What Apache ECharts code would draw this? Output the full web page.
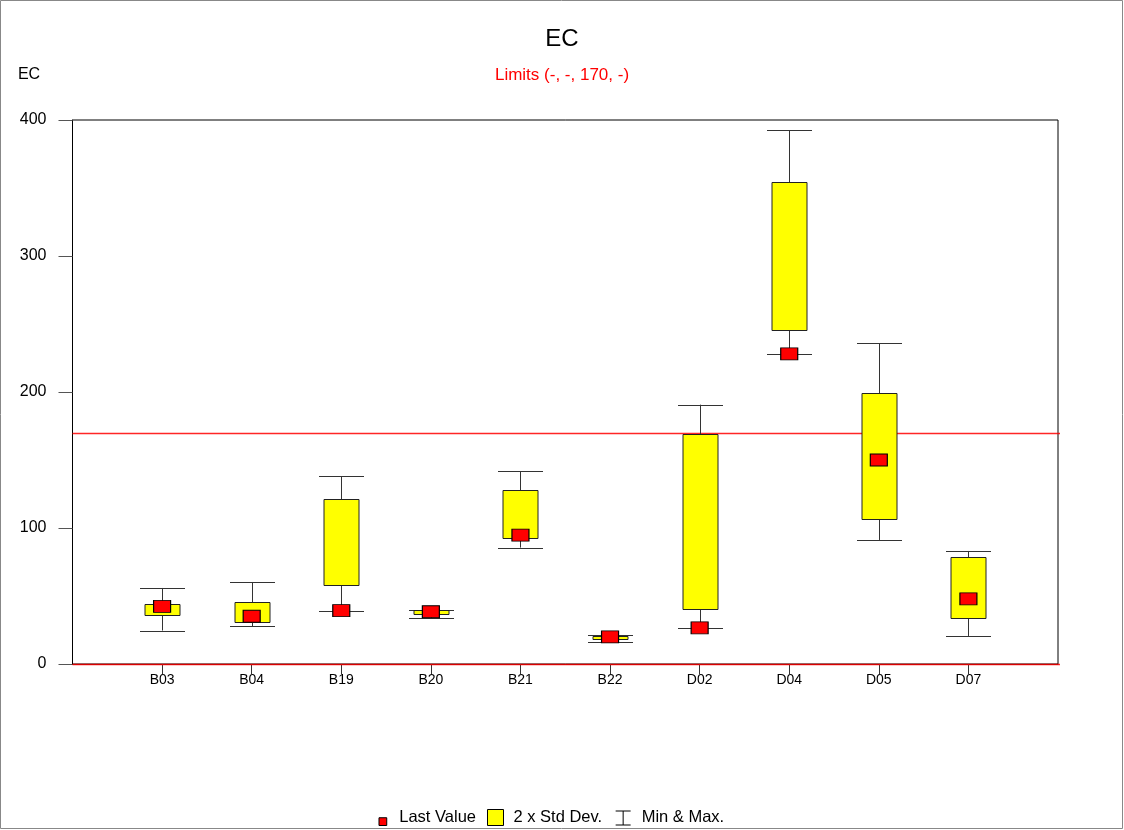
<!DOCTYPE html>
<html>
<head>
<meta charset="utf-8">
<script src="https://cdn.jsdelivr.net/npm/echarts@6/dist/echarts.min.js"></script>
<style>
html,body{margin:0;padding:0;background:#fff;}
#chart{width:1124px;height:830px;}
</style>
</head>
<body>
<div id="chart"></div>
<script>
const categories = ['B03','B04','B19','B20','B21','B22','D02','D04','D05','D07'];
const minValues  = [24.6, 27.9, 38.7, 33.6, 85.6, 16.5, 26.5, 227.7, 91.2, 20.6];
const maxValues  = [55.9, 60.3, 138.0, 39.7, 141.7, 21.3, 190.7, 392.6, 235.8, 83.1];
const boxLow     = [35.8, 30.9, 57.9, 37.0, 92.9, 18.4, 40.2, 245.4, 106.4, 33.8];
const boxHigh    = [44.1, 45.9, 121.1, 39.7, 128.2, 20.4, 168.9, 354.4, 199.3, 78.7];
const lastValues = [42.4, 35.1, 39.2, 38.4, 94.8, 19.9, 26.6, 228.0, 150.0, 47.9];
const limitValues = [170, 0];
const yTicks = [0, 100, 200, 300, 400];

const font = '"Liberation Sans", Arial, sans-serif';
const axisCats = [''].concat(categories, ['']);

const whiskerData = categories.map((c, i) => [c, minValues[i], maxValues[i]]);
const boxData = categories.map((c, i) => [c, boxLow[i], boxHigh[i]]);
const lastData = categories.map((c, i) => [c, lastValues[i]]);
const limitData = limitValues.map(v => [0, v]);

function renderWhisker(params, api) {
  const lo = api.coord([api.value(0), api.value(1)]);
  const hi = api.coord([api.value(0), api.value(2)]);
  const x = Math.round(lo[0]) + 0.5;
  const capW = 45;
  const st = {stroke: '#333', lineWidth: 1};
  return {
    type: 'group',
    children: [
      {type: 'line', shape: {x1: x, y1: lo[1], x2: x, y2: hi[1]}, style: st},
      {type: 'line', shape: {x1: x - capW / 2, y1: Math.round(lo[1]) + 0.5, x2: x + capW / 2, y2: Math.round(lo[1]) + 0.5}, style: st},
      {type: 'line', shape: {x1: x - capW / 2, y1: Math.round(hi[1]) + 0.5, x2: x + capW / 2, y2: Math.round(hi[1]) + 0.5}, style: st}
    ]
  };
}

function renderBox(params, api) {
  const lo = api.coord([api.value(0), api.value(1)]);
  const hi = api.coord([api.value(0), api.value(2)]);
  const w = 35;
  const x = Math.round(lo[0]) + 0.5;
  return {
    type: 'rect',
    shape: {x: x - w / 2, y: Math.round(hi[1]) + 0.5, width: w, height: Math.round(lo[1]) - Math.round(hi[1])},
    style: {fill: '#ffff00', stroke: '#222', lineWidth: 1}
  };
}

function renderLimit(params, api) {
  const p = api.coord([api.value(0), api.value(1)]);
  const cs = params.coordSys;
  const y = Math.round(p[1]) + 0.5;
  return {
    type: 'line',
    shape: {x1: cs.x, y1: y, x2: cs.x + cs.width + 2, y2: y},
    style: {stroke: '#ff0000', lineWidth: 1.6, opacity: 0.85}
  };
}

const chart = echarts.init(document.getElementById('chart'), null, {renderer: 'canvas'});
chart.setOption({
  backgroundColor: '#fff',
  animation: false,
  textStyle: {fontFamily: font},
  title: {
    text: 'EC',
    subtext: 'Limits (-, -, 170, -)',
    left: 'center',
    top: 22,
    itemGap: 16,
    textStyle: {fontFamily: font, fontSize: 24, fontWeight: 'normal', color: '#000'},
    subtextStyle: {fontFamily: font, fontSize: 17, color: '#ff0000'}
  },
  graphic: [{
    type: 'rect',
    shape: {x: 0.5, y: 0.5, width: 1122, height: 828},
    style: {fill: 'none', stroke: '#888', lineWidth: 1},
    silent: true
  }],
  legend: {
    top: 807,
    left: 378,
    padding: 0,
    itemWidth: 16,
    itemHeight: 16,
    itemGap: 11,
    textStyle: {fontFamily: font, fontSize: 16.5, color: '#000'},
    data: [
      {name: 'Last Value', icon: 'path://M0,0 M16,16 M0.5,8.5 h8 v8 h-8 Z', itemStyle: {color: '#ff0000', borderColor: '#000', borderWidth: 1}},
      {name: '2 x Std Dev.', icon: 'rect', itemStyle: {color: '#ffff00', borderColor: '#000', borderWidth: 1}, textStyle: {padding: [0, 0, 0, 5]}},
      {name: 'Min & Max.', icon: 'path://M0,0 M16,16 M0,1.5 H15 M7.5,1.5 V15.5 M0,15.5 H15', itemStyle: {color: 'none', borderColor: '#000', borderWidth: 1}, textStyle: {padding: [0, 0, 0, 5]}}
    ]
  },
  grid: {
    left: 72.5, right: 66, top: 120, bottom: 166,
    show: true, borderColor: '#000', borderWidth: 1, backgroundColor: 'transparent'
  },
  xAxis: {
    type: 'category',
    data: axisCats,
    boundaryGap: false,
    axisLine: {show: true, lineStyle: {color: '#000', width: 1}},
    axisTick: {show: true, length: 10, lineStyle: {color: '#333'}, interval: (i) => i >= 1 && i <= categories.length},
    axisLabel: {interval: 0, color: '#000', fontSize: 14, fontFamily: font, margin: 9},
    splitLine: {show: false}
  },
  yAxis: {
    type: 'value',
    min: yTicks[0],
    max: yTicks[yTicks.length - 1],
    interval: 100,
    name: 'EC',
    nameLocation: 'end',
    nameGap: 0,
    nameTextStyle: {fontFamily: font, fontSize: 16, color: '#000', align: 'center', padding: [0, 0, 37, -87]},
    axisLine: {show: true, lineStyle: {color: '#000', width: 1}},
    axisTick: {show: true, inside: false, length: 14, lineStyle: {color: '#555'}},
    axisLabel: {color: '#000', fontSize: 16, fontFamily: font, margin: 26},
    splitLine: {show: false}
  },
  series: [
    {
      name: 'Limits',
      type: 'custom',
      renderItem: renderLimit,
      encode: {x: 0, y: 1},
      data: limitData,
      silent: true,
      z: 1
    },
    {
      name: 'Min & Max.',
      type: 'custom',
      renderItem: renderWhisker,
      encode: {x: 0, y: [1, 2]},
      data: whiskerData,
      z: 2
    },
    {
      name: '2 x Std Dev.',
      type: 'custom',
      renderItem: renderBox,
      encode: {x: 0, y: [1, 2]},
      data: boxData,
      z: 3
    },
    {
      name: 'Last Value',
      type: 'scatter',
      symbol: 'rect',
      symbolSize: [17, 12],
      itemStyle: {color: '#ff0000', borderColor: '#000', borderWidth: 1, opacity: 1},
      data: lastData,
      z: 4
    }
  ]
});
</script>
</body>
</html>
